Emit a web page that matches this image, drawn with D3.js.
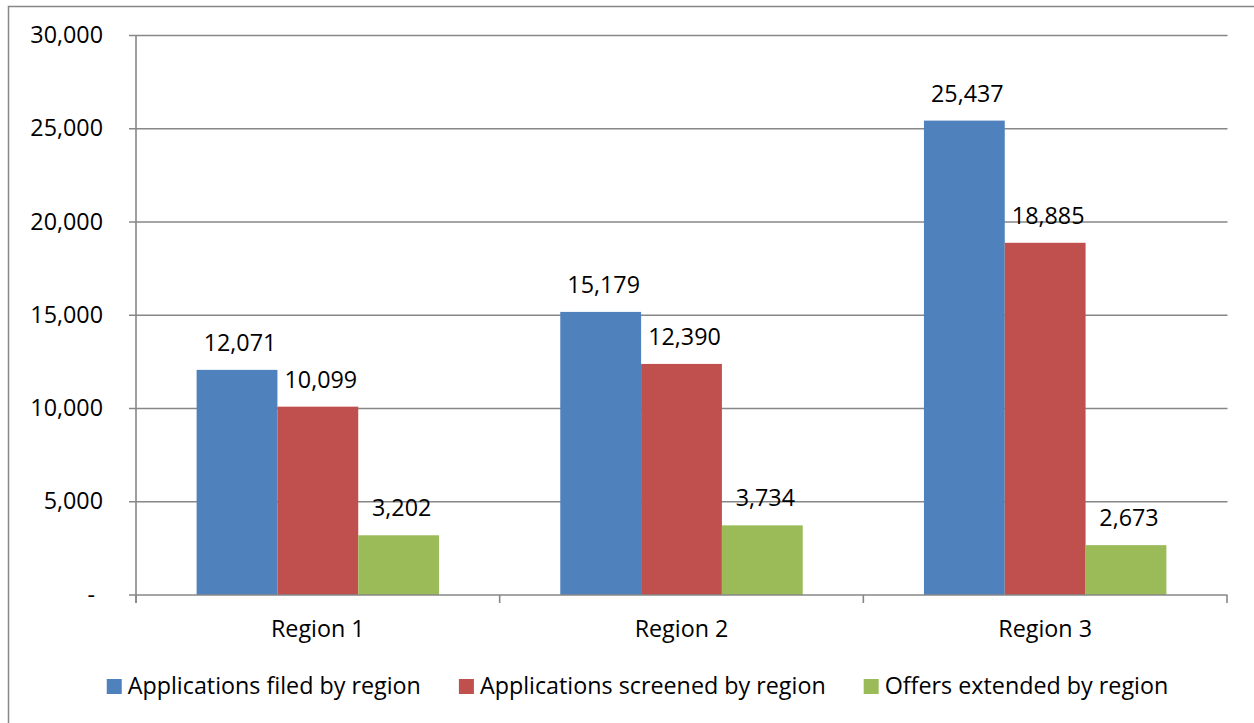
<!DOCTYPE html>
<html>
<head>
<meta charset="utf-8">
<script src="https://cdn.jsdelivr.net/npm/d3@7"></script>
<style>
  html, body { margin: 0; padding: 0; background: #fff; }
  svg { display: block; }
  text { font-family: "Open Sans", Lato, sans-serif; fill: #000; }
</style>
</head>
<body>
<svg id="chart" width="1254" height="723"></svg>
<script>
const categories = ["Region 1", "Region 2", "Region 3"];
const seriesNames = ["Applications filed by region", "Applications screened by region", "Offers extended by region"];
const filed = [12071, 15179, 25437];
const screened = [10099, 12390, 18885];
const offers = [3202, 3734, 2673];
const yTicks = [0, 5000, 10000, 15000, 20000, 25000, 30000];
const colors = ["#4F81BD", "#C0504D", "#9BBB59"];

const seriesValues = [filed, screened, offers];

(function () {
const svg = d3.select("#chart");
const W = 1254, H = 723;
const pLeft = 136, pRight = 1227, pTop = 35.5, pBottom = 595;
const fontSize = 23.3;
const gridColor = "#878787";

// outer frame
svg.append("rect").attr("x", 8.5).attr("y", 6.5).attr("width", W + 20).attr("height", H + 20)
  .attr("fill", "#fff").attr("stroke", gridColor).attr("stroke-width", 1.5);

const y = d3.scaleLinear().domain([0, 30000]).range([pBottom, pTop]);
const x0 = d3.scaleBand().domain(categories).range([pLeft, pRight]).paddingInner(0).paddingOuter(0);
const bw = x0.bandwidth();
const groupW = bw * 3 / 4.5;
const x1 = d3.scaleBand().domain(seriesNames).range([(bw - groupW) / 2, (bw + groupW) / 2]).padding(0);

// gridlines
svg.append("g").selectAll("line").data(yTicks.filter(d => d > 0)).join("line")
  .attr("x1", pLeft - 7).attr("x2", pRight + 0.5)
  .attr("y1", d => y(d)).attr("y2", d => y(d))
  .attr("stroke", gridColor).attr("stroke-width", 1.6);

// y axis labels
const fmt = d3.format(",");
svg.append("g").selectAll("text").data(yTicks).join("text")
  .attr("x", d => d === 0 ? 95 : 103)
  .attr("y", d => y(d))
  .attr("dy", "0.33em")
  .attr("text-anchor", "end")
  .attr("font-size", fontSize)
  .text(d => d === 0 ? "-" : fmt(d));

// bars
const data = [];
categories.forEach((c, i) => seriesNames.forEach((s, j) => data.push({ c, s, j, v: seriesValues[j][i] })));

svg.append("g").selectAll("rect").data(data).join("rect")
  .attr("x", d => x0(d.c) + x1(d.s))
  .attr("width", x1.bandwidth())
  .attr("y", d => y(d.v))
  .attr("height", d => y(0) - y(d.v))
  .attr("fill", d => colors[d.j]);

// bar labels
svg.append("g").selectAll("text").data(data).join("text")
  .attr("x", d => x0(d.c) + x1(d.s) + x1.bandwidth() / 2 + 3)
  .attr("y", d => y(d.v) - 19)
  .attr("text-anchor", "middle")
  .attr("font-size", fontSize)
  .text(d => fmt(d.v));

// y axis line
svg.append("line").attr("x1", pLeft).attr("x2", pLeft).attr("y1", pTop).attr("y2", pBottom + 8)
  .attr("stroke", gridColor).attr("stroke-width", 1.6);
// x axis line
svg.append("line").attr("x1", pLeft - 7).attr("x2", pRight + 0.5).attr("y1", pBottom).attr("y2", pBottom)
  .attr("stroke", gridColor).attr("stroke-width", 1.6);
// category ticks
const tickXs = categories.map(c => x0(c)).concat([pRight]);
svg.append("g").selectAll("line").data(tickXs).join("line")
  .attr("x1", d => d).attr("x2", d => d).attr("y1", pBottom).attr("y2", pBottom + 8)
  .attr("stroke", gridColor).attr("stroke-width", 1.6);

// category labels
svg.append("g").selectAll("text").data(categories).join("text")
  .attr("x", d => x0(d) + bw / 2)
  .attr("y", 637)
  .attr("text-anchor", "middle")
  .attr("font-size", fontSize)
  .text(d => d);

// legend
const legend = svg.append("g");
const items = legend.selectAll("g").data(seriesNames).join("g");
items.append("rect").attr("width", 15).attr("height", 15).attr("y", 679)
  .attr("fill", (d, i) => colors[i]);
items.append("text").attr("x", 21).attr("y", 694).attr("font-size", fontSize).text(d => d);
let widths = [];
items.each(function () { widths.push(21 + d3.select(this).select("text").node().getComputedTextLength()); });
const gap = 38;
const total = d3.sum(widths) + gap * (widths.length - 1);
let cx = 637.5 - total / 2;
items.attr("transform", (d, i) => { const t = `translate(${cx},0)`; cx += widths[i] + gap; return t; });
})();
</script>
</body>
</html>
